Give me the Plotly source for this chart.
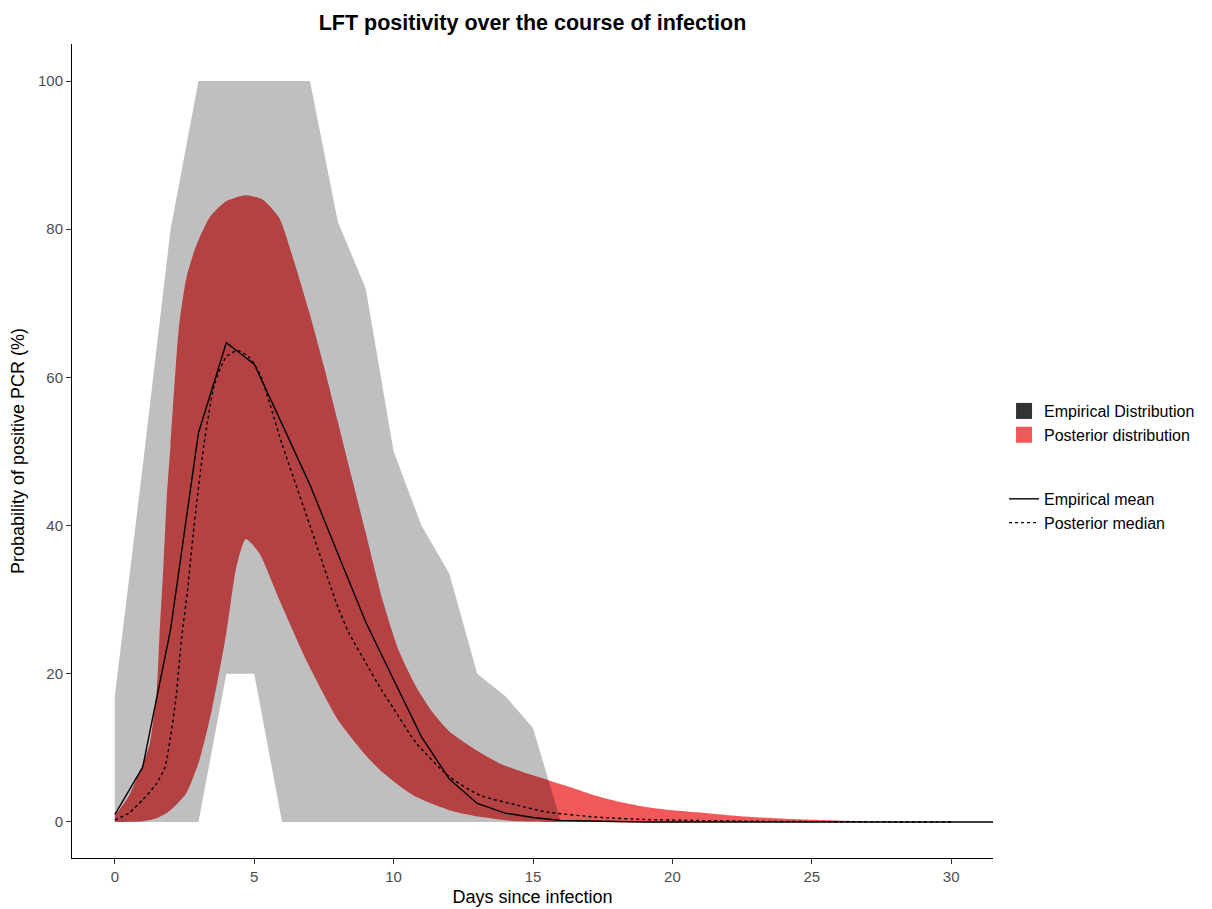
import plotly.graph_objects as go

# ---------------- data ----------------
emp_days = list(range(0, 17))
emp_upper = [17, 48, 80, 100, 100, 100, 100, 100, 81, 72, 50, 40, 33.5, 20, 17, 12.7, 0]
emp_lower = [0, 0, 0, 0, 20, 20, 0, 0, 0, 0, 0, 0, 0, 0, 0, 0, 0]

mean_days = list(range(0, 33))
emp_mean = [1.0, 7.4, 26.0, 52.5, 64.7, 61.8, 53.7, 45.5, 36.2, 27.0, 19.2, 11.5, 5.8, 2.5, 1.2,
            0.6, 0.2, 0.1, 0, 0, 0, 0, 0, 0, 0, 0, 0, 0, 0, 0, 0, 0, 0]

post_upper_x = [0, 0.5, 1.0, 1.25, 1.5, 1.6, 1.75, 1.86, 2.0, 2.3, 2.57, 2.9, 3.4, 4.0, 4.7, 5.3,
                5.9, 6.36, 6.96, 7.5, 8.0, 8.5, 9.0, 9.6, 10.2, 10.8, 11.4, 12.0, 13.0, 13.75,
                14.5, 15.5, 16.5, 17.3, 18.0, 19.1, 20.0, 20.9, 22.0, 22.7, 24.0, 25.6, 26.5, 27.6, 30.0]
post_upper = [0.8, 3.5, 7.8, 10.5, 17.5, 25.0, 35.0, 43.5, 51.0, 66.8, 73.5, 77.6, 81.6, 83.8, 84.6, 84.0,
              81.5, 76.5, 69.0, 61.5, 54.0, 46.5, 39.0, 30.0, 23.0, 18.3, 14.8, 12.2, 9.6, 8.0,
              6.9, 5.7, 4.5, 3.5, 2.8, 2.0, 1.6, 1.3, 0.9, 0.7, 0.45, 0.25, 0.15, 0.05, 0.0]

post_lower_x = [0, 1.0, 1.5, 1.86, 2.2, 2.57, 3.04, 3.5, 4.0, 4.36, 4.7, 5.18, 5.9, 6.86, 8.0,
                9.0, 9.57, 10.2, 10.8, 12.0, 13.1, 14.4, 16.0, 30.0]
post_lower = [0, 0.1, 0.5, 1.2, 2.3, 3.9, 8.4, 15.5, 25.5, 34.4, 38.2, 36.3, 30.0, 21.9, 13.8,
              9.0, 6.8, 4.9, 3.4, 1.6, 0.7, 0.1, 0.0, 0.0]

post_med_x = [0, 0.5, 1.0, 1.5, 1.8, 2.0, 2.2, 2.4, 2.6, 2.8, 2.95, 3.2, 3.57, 4.0, 4.4, 4.8, 5.2, 6.0, 7.0,
              8.0, 8.4, 9.0, 9.57, 10.0, 10.8, 12.0, 13.1, 14.4, 15.5, 17.3, 19.0, 20.9, 23.0, 25.0, 28.0, 30.0]
post_med = [0.3, 1.2, 3.0, 5.2, 7.4, 11.5, 17.0, 25.0, 31.0, 38.5, 43.5, 51.0, 59.0, 62.8, 63.6, 62.8, 60.5, 51.0, 40.0,
            29.0, 25.5, 21.5, 17.8, 15.3, 10.7, 6.1, 3.6, 2.3, 1.35, 0.65, 0.35, 0.2, 0.1, 0.05, 0.01, 0.0]

x_ticks = [0, 5, 10, 15, 20, 25, 30]
y_ticks = [0, 20, 40, 60, 80, 100]

RED = "rgb(240,88,90)"
GRAY = "rgba(0,0,0,0.25)"
FONT = "Liberation Sans, Arial, sans-serif"

fig = go.Figure()

# posterior band
fig.add_trace(go.Scatter(
    x=post_upper_x + post_lower_x[::-1],
    y=post_upper + post_lower[::-1],
    fill="toself", fillcolor=RED, mode="lines", line=dict(width=0, color=RED, shape="spline", smoothing=0.6),
    showlegend=False, hoverinfo="skip"))

# empirical band (drawn on top, translucent)
fig.add_trace(go.Scatter(
    x=emp_days + emp_days[::-1],
    y=emp_upper + emp_lower[::-1],
    fill="toself", fillcolor=GRAY, mode="lines", line=dict(width=0, color=GRAY),
    showlegend=False, hoverinfo="skip"))

# lines
fig.add_trace(go.Scatter(x=mean_days, y=emp_mean, mode="lines",
                         line=dict(color="black", width=1.4), showlegend=False))
fig.add_trace(go.Scatter(x=post_med_x, y=post_med, mode="lines",
                         line=dict(color="black", width=1.4, dash="dot", shape="spline", smoothing=0.6),
                         showlegend=False))

# legend entries
fig.add_trace(go.Scatter(x=[None], y=[None], mode="markers", name="Empirical Distribution",
                         marker=dict(symbol="square", size=17, color="#333333"), legend="legend"))
fig.add_trace(go.Scatter(x=[None], y=[None], mode="markers", name="Posterior distribution",
                         marker=dict(symbol="square", size=17, color=RED), legend="legend"))
fig.add_trace(go.Scatter(x=[None], y=[None], mode="lines", name="Empirical mean",
                         line=dict(color="black", width=1.4), legend="legend2"))
fig.add_trace(go.Scatter(x=[None], y=[None], mode="lines", name="Posterior median",
                         line=dict(color="black", width=1.4, dash="dot"), legend="legend2"))

axis_common = dict(showline=True, linecolor="black", linewidth=1, ticks="outside", ticklen=5,
                   tickcolor="#333333", tickwidth=1, showgrid=False, zeroline=False, automargin=False,
                   tickfont=dict(family=FONT, size=15, color="#4d4d4d"),
                   title_font=dict(family=FONT, size=18, color="black"))

# page body has an 8px margin, so the figure is sized/positioned to compensate
fig.update_layout(
    width=1204, height=901,
    margin=dict(l=64, r=215, t=36, b=51),
    plot_bgcolor="white", paper_bgcolor="white",
    title=dict(text="<b>LFT positivity over the course of infection</b>",
               font=dict(family=FONT, size=21.5, color="black"),
               x=0.5, xref="paper", xanchor="center", y=1 - 14 / 901, yref="container", yanchor="middle"),
    xaxis=dict(range=[-1.536, 31.5], tickvals=x_ticks, title=dict(text="Days since infection", standoff=6),
               **axis_common),
    yaxis=dict(range=[-4.86, 105], tickvals=y_ticks, title=dict(text="Probability of positive PCR (%)", standoff=10),
               **axis_common),
    legend=dict(x=1.012, y=0.570, xanchor="left", yanchor="top", font=dict(family=FONT, size=16, color="black"),
                bgcolor="rgba(0,0,0,0)", tracegroupgap=0, itemclick=False),
    legend2=dict(x=1.012, y=0.462, xanchor="left", yanchor="top", font=dict(family=FONT, size=16, color="black"),
                 bgcolor="rgba(0,0,0,0)", tracegroupgap=0, itemclick=False),
)

fig.write_html("out.html")
